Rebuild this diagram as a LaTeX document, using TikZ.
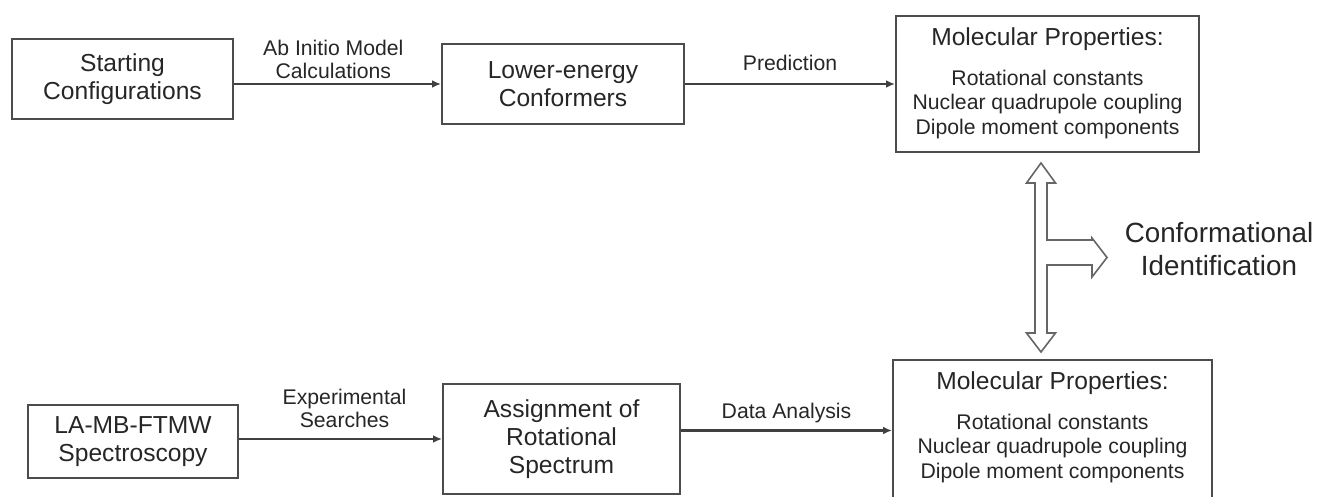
\documentclass[tikz,border=0pt]{standalone}
\usepackage{fontspec}
\setmainfont{Liberation Sans}
\usetikzlibrary{positioning}
\usetikzlibrary{arrows.meta}

\newcommand{\boxfont}{\fontsize{12.3}{14}\selectfont}
\newcommand{\lblfont}{\fontsize{10.6}{11.5}\selectfont}
\newcommand{\propfont}{\fontsize{10.6}{12.3}\selectfont}
\newcommand{\bigfont}{\fontsize{13.9}{16.5}\selectfont}

\begin{document}
\begin{tikzpicture}[x=0.5pt, y=-0.5pt,
    procbox/.style={draw=black!70, line width=0.9pt, align=center, inner sep=0pt, font=\boxfont, text=black!85},
    proptxt/.style={align=center, inner sep=0pt, font=\propfont, text=black!85},
    lbl/.style={align=center, inner sep=0pt, font=\lblfont, text=black!85},
    arr/.style={draw=black!75, line width=1.1pt, -{Latex[length=4.5pt, width=3.8pt]}},
    bigarr/.style={draw=black!60, line width=0.8pt, fill=white, line join=miter}]
    \useasboundingbox (0,0) rectangle (1317,497);

    % upper row: calculations
    \node[procbox, minimum width=110.5pt, minimum height=40pt] (start) at (122.5,79) {Starting\\Configurations};
    \node[procbox, minimum width=121pt, minimum height=40pt] (lower) at (563,84) {Lower-energy\\Conformers};
    \node[procbox, minimum width=151.5pt, minimum height=68pt] (propTop) at (1047.5,84) {};
    \node[proptxt, below=5.9pt of propTop.north] (propTopTxt) {{\boxfont Molecular Properties:}\\[7.7pt]
        Rotational constants\\Nuclear quadrupole coupling\\Dipole moment components};

    \draw[arr] (start.east |- lower.west) -- (lower.west)
        node[lbl, pos=0.48, above=2pt] (abinitio) {Ab Initio Model\\Calculations};
    \draw[arr] (lower.east |- propTop.west) -- (propTop.west)
        node[lbl, midway, above=6pt] (predict) {Prediction};

    % lower row: experiment
    \node[procbox, minimum width=105pt, minimum height=36.5pt] (lamb) at (133,441.5) {LA-MB-FTMW\\Spectroscopy};
    \node[procbox, minimum width=118.5pt, minimum height=55pt] (assign) at (561.5,439) {Assignment of\\Rotational\\Spectrum};
    \node[procbox, minimum width=159.5pt, minimum height=70.5pt] (propBot) at (1052.5,430.5) {};
    \node[proptxt, below=5.9pt of propBot.north] (propBotTxt) {{\boxfont Molecular Properties:}\\[7.7pt]
        Rotational constants\\Nuclear quadrupole coupling\\Dipole moment components};

    \draw[arr] (lamb.east |- assign.west) -- (assign.west)
        node[lbl, pos=0.52, above=5.2pt] (expsearch) {Experimental\\Searches};
    \draw[arr] (assign.east |- propBot.west) -- (propBot.west)
        node[lbl, midway, above=3.5pt] (analysis) {Data Analysis};

    % comparison
    \draw[bigarr] (1041,163) -- (1055.5,183) -- (1047,183) -- (1047,240) -- (1092,240) -- (1092,238)
        -- (1107,257.5) -- (1092,277) -- (1092,265) -- (1047,265) -- (1047,333) -- (1055.5,333)
        -- (1041,352) -- (1026.5,333) -- (1035,333) -- (1035,183) -- (1026.5,183) -- cycle;
    \node[align=center, inner sep=0pt, font=\bigfont, text=black!85] (confid) at (1219,249.5) {Conformational\\Identification};
\end{tikzpicture}
\end{document}
